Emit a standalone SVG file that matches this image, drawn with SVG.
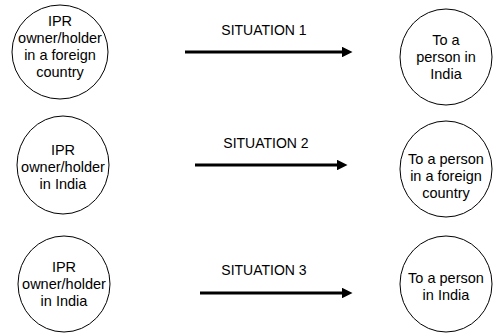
<svg xmlns="http://www.w3.org/2000/svg" width="497" height="334" viewBox="0 0 497 334">
<style>
.n{fill:#fff;stroke:#000;stroke-width:1}
.t{font-family:"Liberation Sans",Arial,sans-serif;font-size:14.5px;fill:#000;text-anchor:middle}
.l{font-family:"Liberation Sans",Arial,sans-serif;font-size:14px;fill:#000;text-anchor:middle}
.c{stroke:#000;stroke-width:3;fill:none}
</style>
<defs>
<marker id="ah" viewBox="0 0 10 10" refX="0" refY="5" markerWidth="3.5" markerHeight="3.5" orient="auto" markerUnits="strokeWidth">
<path d="M0,0L10,5L0,10z" fill="#000"/>
</marker>
</defs>
<rect width="497" height="334" fill="#fff"/>
<g id="n1"><ellipse class="n" cx="60" cy="52" rx="48" ry="47"/>
<text class="t" x="60" y="26">IPR</text><text class="t" x="60" y="43">owner/holder</text><text class="t" x="60" y="60">in a foreign</text><text class="t" x="60" y="77">country</text></g>
<g id="n2"><ellipse class="n" cx="446" cy="57" rx="46" ry="48"/>
<text class="t" x="446" y="45">To a</text><text class="t" x="446" y="62">person in</text><text class="t" x="446" y="79">India</text></g>
<g id="n3"><ellipse class="n" cx="63" cy="165" rx="46" ry="49"/>
<text class="t" x="63" y="155">IPR</text><text class="t" x="63" y="172">owner/holder</text><text class="t" x="63" y="189">in India</text></g>
<g id="n4"><ellipse class="n" cx="446" cy="169" rx="46" ry="48"/>
<text class="t" x="446" y="164">To a person</text><text class="t" x="446" y="181">in a foreign</text><text class="t" x="446" y="198">country</text></g>
<g id="n5"><ellipse class="n" cx="64" cy="284" rx="46" ry="48"/>
<text class="t" x="64" y="272">IPR</text><text class="t" x="64" y="289">owner/holder</text><text class="t" x="64" y="306">in India</text></g>
<g id="n6"><ellipse class="n" cx="446" cy="284" rx="46" ry="48"/>
<text class="t" x="446" y="283">To a person</text><text class="t" x="446" y="300">in India</text></g>
<g id="connectors">
<line class="c" x1="185" y1="52" x2="342" y2="52" marker-end="url(#ah)"/>
<line class="c" x1="195" y1="165" x2="337" y2="165" marker-end="url(#ah)"/>
<line class="c" x1="200" y1="293" x2="342" y2="293" marker-end="url(#ah)"/>
<text class="l" x="264" y="35">SITUATION 1</text>
<text class="l" x="266" y="148">SITUATION 2</text>
<text class="l" x="264" y="275">SITUATION 3</text>
</g>
</svg>
